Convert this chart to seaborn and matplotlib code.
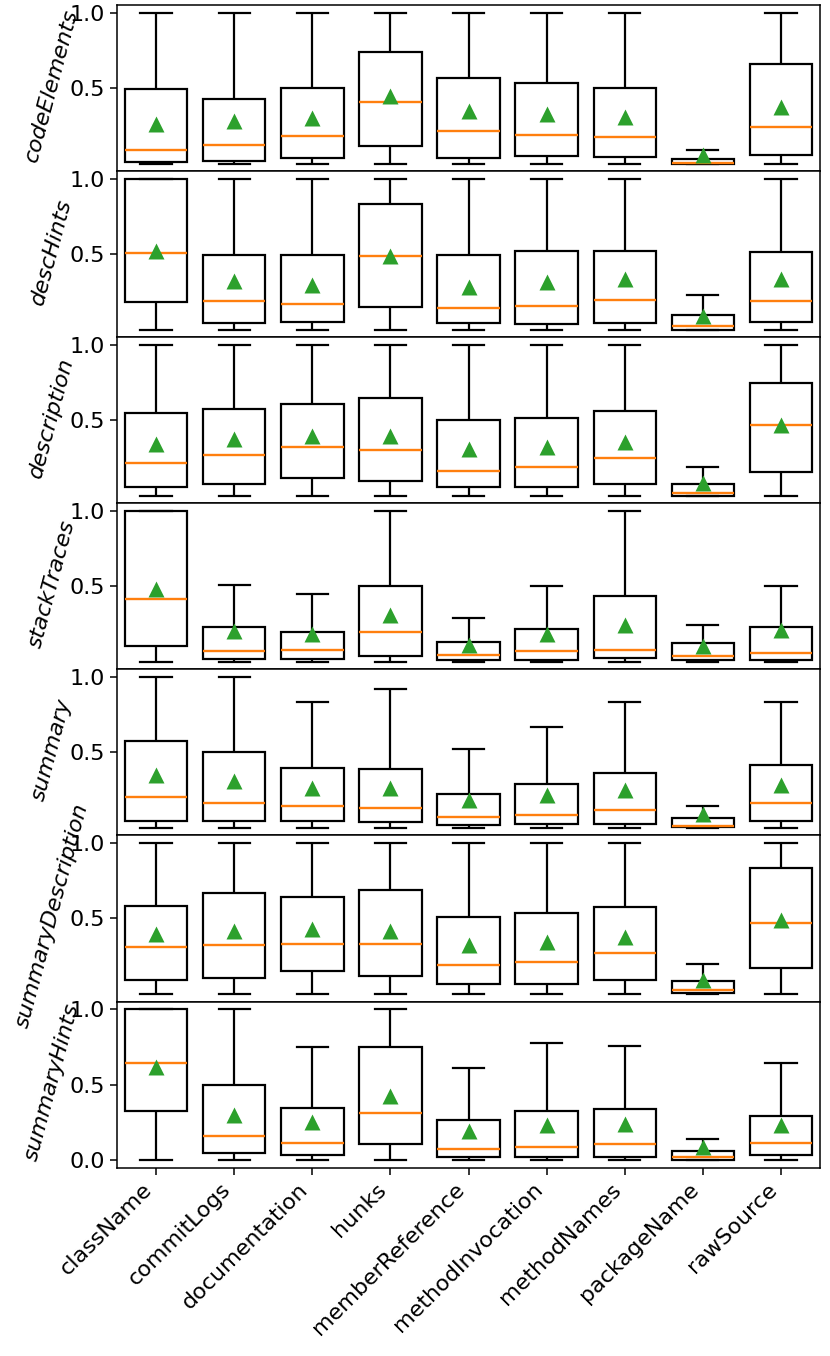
import pandas as pd
import matplotlib
matplotlib.use("Agg")
import matplotlib.pyplot as plt
import seaborn as sns

categories = ["className", "commitLogs", "documentation", "hunks", "memberReference",
              "methodInvocation", "methodNames", "packageName", "rawSource"]
panels = ["codeElements", "descHints", "description", "stackTraces",
          "summary", "summaryDescription", "summaryHints"]

# one row per panel, one value per category
whisker_lo = [
    [0.0, 0.0, 0.0, 0.0, 0.0, 0.0, 0.0, 0.0, 0.0],
    [0.0, 0.0, 0.0, 0.0, 0.0, 0.0, 0.0, 0.0, 0.0],
    [0.0, 0.0, 0.0, 0.0, 0.0, 0.0, 0.0, 0.0, 0.0],
    [0.0, 0.0, 0.0, 0.0, 0.0, 0.0, 0.0, 0.0, 0.0],
    [0.0, 0.0, 0.0, 0.0, 0.0, 0.0, 0.0, 0.0, 0.0],
    [0.0, 0.0, 0.0, 0.0, 0.0, 0.0, 0.0, 0.0, 0.0],
    [0.0, 0.0, 0.0, 0.0, 0.0, 0.0, 0.0, 0.0, 0.0],
]
q1 = [
    [0.010, 0.022, 0.040, 0.120, 0.042, 0.051, 0.047, 0.002, 0.056],
    [0.182, 0.047, 0.053, 0.151, 0.047, 0.042, 0.049, 0.000, 0.053],
    [0.062, 0.078, 0.122, 0.100, 0.062, 0.056, 0.078, 0.000, 0.160],
    [0.104, 0.022, 0.020, 0.042, 0.013, 0.016, 0.024, 0.016, 0.011],
    [0.046, 0.046, 0.049, 0.038, 0.022, 0.024, 0.029, 0.004, 0.049],
    [0.091, 0.108, 0.153, 0.117, 0.069, 0.069, 0.093, 0.007, 0.170],
    [0.325, 0.044, 0.035, 0.104, 0.022, 0.020, 0.020, 0.002, 0.031],
]
median = [
    [0.095, 0.127, 0.187, 0.413, 0.215, 0.193, 0.176, 0.007, 0.247],
    [0.511, 0.193, 0.169, 0.493, 0.142, 0.160, 0.200, 0.027, 0.193],
    [0.220, 0.271, 0.327, 0.302, 0.162, 0.193, 0.249, 0.020, 0.467],
    [0.416, 0.071, 0.080, 0.199, 0.046, 0.075, 0.082, 0.040, 0.060],
    [0.208, 0.166, 0.144, 0.131, 0.071, 0.088, 0.119, 0.015, 0.164],
    [0.310, 0.325, 0.334, 0.334, 0.195, 0.210, 0.272, 0.029, 0.467],
    [0.642, 0.162, 0.111, 0.314, 0.071, 0.084, 0.106, 0.018, 0.111],
]
q3 = [
    [0.498, 0.429, 0.504, 0.742, 0.567, 0.538, 0.500, 0.035, 0.662],
    [1.000, 0.498, 0.498, 0.833, 0.498, 0.522, 0.522, 0.098, 0.518],
    [0.551, 0.578, 0.607, 0.647, 0.500, 0.513, 0.560, 0.078, 0.749],
    [1.000, 0.232, 0.199, 0.500, 0.133, 0.219, 0.438, 0.126, 0.232],
    [0.575, 0.500, 0.396, 0.392, 0.226, 0.290, 0.363, 0.064, 0.418],
    [0.584, 0.666, 0.644, 0.688, 0.507, 0.538, 0.577, 0.086, 0.834],
    [1.000, 0.500, 0.343, 0.750, 0.265, 0.327, 0.341, 0.062, 0.290],
]
whisker_hi = [
    [1.0, 1.0, 1.0, 1.0, 1.0, 1.0, 1.0, 0.089, 1.0],
    [1.0, 1.0, 1.0, 1.0, 1.0, 1.0, 1.0, 0.233, 1.0],
    [1.0, 1.0, 1.0, 1.0, 1.0, 1.0, 1.0, 0.191, 1.0],
    [1.0, 0.511, 0.449, 1.0, 0.294, 0.500, 1.0, 0.248, 0.500],
    [1.0, 1.0, 0.832, 0.918, 0.520, 0.668, 0.832, 0.144, 0.832],
    [1.0, 1.0, 1.0, 1.0, 1.0, 1.0, 1.0, 0.201, 1.0],
    [1.0, 1.0, 0.750, 1.0, 0.611, 0.777, 0.754, 0.142, 0.642],
]
means = [
    [0.262, 0.282, 0.307, 0.449, 0.353, 0.333, 0.311, 0.058, 0.378],
    [0.520, 0.324, 0.296, 0.489, 0.284, 0.316, 0.338, 0.095, 0.338],
    [0.342, 0.376, 0.398, 0.400, 0.309, 0.327, 0.360, 0.087, 0.471],
    [0.482, 0.206, 0.186, 0.314, 0.115, 0.184, 0.246, 0.108, 0.210],
    [0.354, 0.312, 0.265, 0.265, 0.186, 0.219, 0.250, 0.091, 0.285],
    [0.400, 0.418, 0.429, 0.418, 0.323, 0.347, 0.378, 0.093, 0.489],
    [0.613, 0.299, 0.250, 0.425, 0.192, 0.232, 0.237, 0.086, 0.230],
]

plt.rcParams["font.size"] = 16
plt.rcParams["axes.linewidth"] = 1.1
plt.rcParams["xtick.major.size"] = 5
plt.rcParams["ytick.major.size"] = 5
plt.rcParams["xtick.major.width"] = 1.1
plt.rcParams["ytick.major.width"] = 1.1

fig, axes = plt.subplots(len(panels), 1, figsize=(8.3, 13.56), dpi=100, sharex=True)
fig.subplots_adjust(left=0.141, right=0.988, top=0.996, bottom=0.139, hspace=0)

for i, (ax, name) in enumerate(zip(axes, panels)):
    rows = []
    for j, cat in enumerate(categories):
        # five points whose quartiles and extremes give the box
        for v in [whisker_lo[i][j], q1[i][j], median[i][j], q3[i][j], whisker_hi[i][j]]:
            rows.append({"feature": cat, "value": v})
    df = pd.DataFrame(rows)
    sns.boxplot(data=df, x="feature", y="value", order=categories, ax=ax,
                color="white", linecolor="black", linewidth=1.6, width=0.8,
                whis=(0, 100), showfliers=False,
                medianprops={"color": "#ff7f0e", "linewidth": 1.7})
    mdf = pd.DataFrame({"feature": categories, "mean": means[i]})
    sns.stripplot(data=mdf, x="feature", y="mean", order=categories, ax=ax,
                  jitter=False, marker="^", color="#2ca02c", size=11.5, zorder=4)
    ax.set_xlabel("")
    ax.set_ylabel(name, fontstyle="italic", fontsize=16, rotation=75, labelpad=6)
    ax.set_ylim(-0.05, 1.05)
    if i < len(panels) - 1:
        ax.set_yticks([0.5, 1.0])
    else:
        ax.set_yticks([0.0, 0.5, 1.0])

axes[-1].tick_params(axis="x", labelrotation=45)
for lab in axes[-1].get_xticklabels():
    lab.set_ha("right")

fig.savefig("out.png", dpi=100)
